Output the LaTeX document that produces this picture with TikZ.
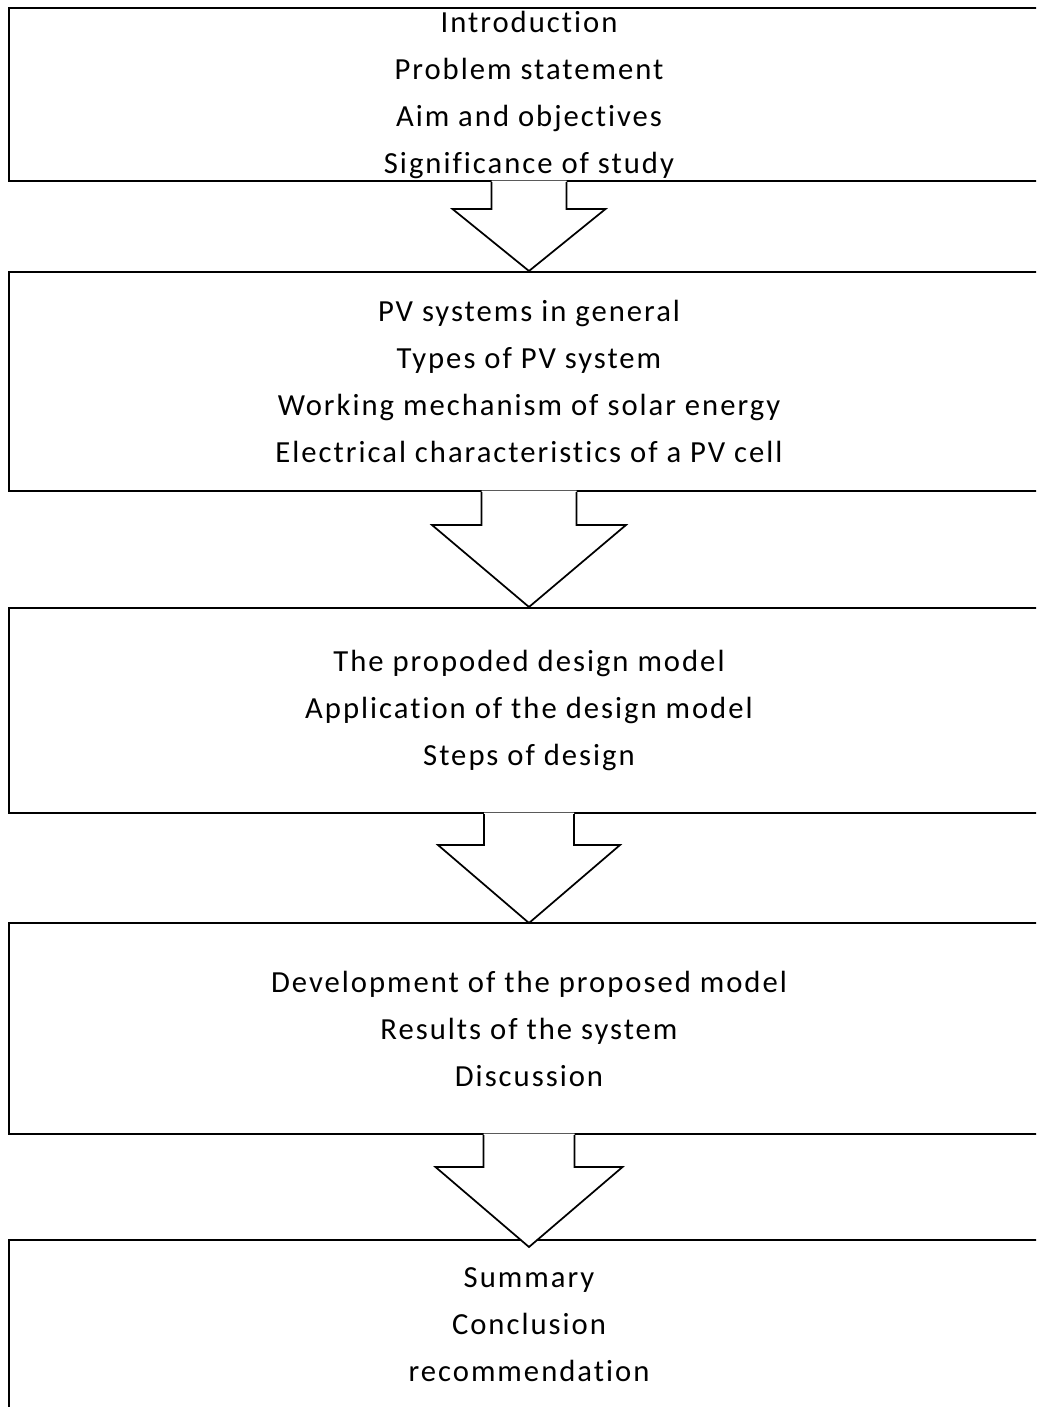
\documentclass[tikz,border=0pt]{standalone}
\usepackage{fontspec}
\setmainfont{Carlito}[LetterSpace=6.5, Ligatures=NoCommon]
\usetikzlibrary{calc}
\tikzset{
  x=0.75pt, y=-0.75pt,
  stage/.style={draw=black, line width=1.5pt, fill=none, minimum width=1040*0.75pt,
    align=center, inner sep=0pt, font=\fontsize{23}{35.25}\selectfont},
  flowline/.style={draw=black, line width=1.3pt, line join=miter},
}
% block arrow between two stages: #1 upper stage, #2 lower stage,
% #3 shaft half width, #4 head half width, #5 shoulder depth, #6 tip overshoot
\newcommand{\blockarrow}[6]{%
  \fill[white] ($(#1.south)+(-#3,-1.5)$) -- ($(#1.south)+(#3,-1.5)$)
    -- ($(#1.south)+(#3,#5)$) -- ($(#1.south)+(#4,#5)$) -- ($(#2.north)+(0,#6)$)
    -- ($(#1.south)+(-#4,#5)$) -- ($(#1.south)+(-#3,#5)$) -- cycle;
  \draw[flowline] ($(#1.south)+(-#3,0)$) -- ($(#1.south)+(-#3,#5)$)
    -- ($(#1.south)+(-#4,#5)$) -- ($(#2.north)+(0,#6)$)
    -- ($(#1.south)+(#4,#5)$) -- ($(#1.south)+(#3,#5)$) -- ($(#1.south)+(#3,0)$);
}
\begin{document}
\begin{tikzpicture}
\useasboundingbox (0,0) rectangle (1036,1407);
\clip (0,0) rectangle (1036,1407);

\node[stage, minimum height=173*0.75pt] (s1) at (529,94.5)
  {Introduction\\Problem statement\\Aim and objectives\\Significance of study};
\node[stage, minimum height=219*0.75pt] (s2) at (529,381.5)
  {PV systems in general\\Types of PV system\\Working mechanism of solar energy\\Electrical characteristics of a PV cell};
\node[stage, minimum height=205*0.75pt] (s3) at (529,710.5)
  {The propoded design model\\Application of the design model\\Steps of design};
\node[stage, minimum height=211*0.75pt] (s4) at (529,1028.5)
  {Development of the proposed model\\Results of the system\\Discussion};
\node[stage, minimum height=170*0.75pt] (s5) at (529,1325)
  {Summary\\Conclusion\\recommendation};

\blockarrow{s1}{s2}{37.5}{76.5}{27}{0}
\blockarrow{s2}{s3}{47.5}{97}{33}{0}
\blockarrow{s3}{s4}{45}{91}{31}{1}
\blockarrow{s4}{s5}{45.5}{93.5}{32}{8}
\end{tikzpicture}
\end{document}
